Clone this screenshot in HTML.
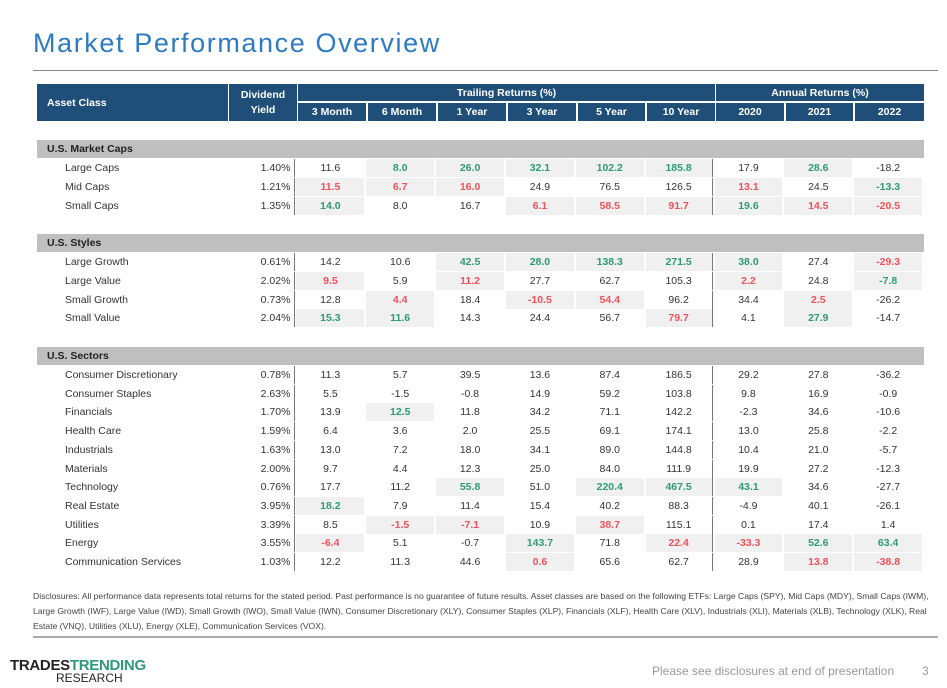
<!DOCTYPE html>
<html><head><meta charset="utf-8"><style>
*{margin:0;padding:0;box-sizing:border-box}
body{width:947px;height:688px;background:#fff;position:relative;font-family:"Liberation Sans",sans-serif;overflow:hidden;color:#333}
.t{position:absolute;left:33px;top:28px;font-size:27px;color:#2e7bc4;letter-spacing:1.6px}
.hl{position:absolute;left:33px;width:905px;height:1px;background:#888}
.h{position:absolute;background:#1f4e79;color:#fff;font-weight:bold;font-size:10.5px;display:flex;align-items:center;justify-content:center}
.row{position:absolute;left:37px;width:887px;display:flex;font-size:10.5px}
.row div{height:100%;display:flex;align-items:center;justify-content:center;margin-right:2px}
.row .n{width:190px;justify-content:flex-start;padding-left:28px;margin-right:1px}
.row .d{width:68px;justify-content:flex-end;padding-right:4px;margin-right:1px;border-right:1px solid #777}
.row .c{width:68px}
.row .c9{border-right:1px solid #777;width:67px}
.g{color:#2e9a78;font-weight:bold;background:#f0f0f0}
.r{color:#f0525a;font-weight:bold;background:#f0f0f0}
.sec{position:absolute;left:37px;width:887px;height:18px;background:#bfbfbf;font-weight:bold;font-size:10.5px;padding-left:10px;display:flex;align-items:center;color:#222}
.disc{position:absolute;left:33px;top:589px;width:900px;font-size:8.6px;line-height:15px;color:#444}
</style></head><body>
<div class="t">Market Performance Overview</div>
<div class="hl" style="top:70px"></div>

<div class="h" style="left:37px;top:84px;width:191px;height:37px;justify-content:flex-start;padding-left:10px">Asset Class</div>
<div class="h" style="left:229px;top:84px;width:68px;height:37px;line-height:15px;text-align:center">Dividend<br>Yield</div>
<div class="h" style="left:298px;top:84px;width:417px;height:17px">Trailing Returns (%)</div>
<div class="h" style="left:716px;top:84px;width:208px;height:17px">Annual Returns (%)</div>
<div class="h" style="left:298px;top:103px;width:68px;height:18px">3 Month</div>
<div class="h" style="left:368px;top:103px;width:68px;height:18px">6 Month</div>
<div class="h" style="left:438px;top:103px;width:68px;height:18px">1 Year</div>
<div class="h" style="left:508px;top:103px;width:68px;height:18px">3 Year</div>
<div class="h" style="left:578px;top:103px;width:67px;height:18px">5 Year</div>
<div class="h" style="left:647px;top:103px;width:68px;height:18px">10 Year</div>
<div class="h" style="left:716px;top:103px;width:68px;height:18px">2020</div>
<div class="h" style="left:786px;top:103px;width:67px;height:18px">2021</div>
<div class="h" style="left:855px;top:103px;width:69px;height:18px">2022</div>

<div class="sec" style="top:140px">U.S. Market Caps</div>
<div class="row" style="top:159px;height:18px"><div class="n">Large Caps</div><div class="d">1.40%</div><div class="c">11.6</div><div class="c g">8.0</div><div class="c g">26.0</div><div class="c g">32.1</div><div class="c g">102.2</div><div class="c c9 g">185.8</div><div class="c">17.9</div><div class="c g">28.6</div><div class="c">-18.2</div></div>
<div class="row" style="top:178px;height:18px"><div class="n">Mid Caps</div><div class="d">1.21%</div><div class="c r">11.5</div><div class="c r">6.7</div><div class="c r">16.0</div><div class="c">24.9</div><div class="c">76.5</div><div class="c c9">126.5</div><div class="c r">13.1</div><div class="c">24.5</div><div class="c g">-13.3</div></div>
<div class="row" style="top:197px;height:18px"><div class="n">Small Caps</div><div class="d">1.35%</div><div class="c g">14.0</div><div class="c">8.0</div><div class="c">16.7</div><div class="c r">6.1</div><div class="c r">58.5</div><div class="c c9 r">91.7</div><div class="c g">19.6</div><div class="c r">14.5</div><div class="c r">-20.5</div></div>

<div class="sec" style="top:234px">U.S. Styles</div>
<div class="row" style="top:253px;height:18px"><div class="n">Large Growth</div><div class="d">0.61%</div><div class="c">14.2</div><div class="c">10.6</div><div class="c g">42.5</div><div class="c g">28.0</div><div class="c g">138.3</div><div class="c c9 g">271.5</div><div class="c g">38.0</div><div class="c">27.4</div><div class="c r">-29.3</div></div>
<div class="row" style="top:272px;height:18px"><div class="n">Large Value</div><div class="d">2.02%</div><div class="c r">9.5</div><div class="c">5.9</div><div class="c r">11.2</div><div class="c">27.7</div><div class="c">62.7</div><div class="c c9">105.3</div><div class="c r">2.2</div><div class="c">24.8</div><div class="c g">-7.8</div></div>
<div class="row" style="top:291px;height:18px"><div class="n">Small Growth</div><div class="d">0.73%</div><div class="c">12.8</div><div class="c r">4.4</div><div class="c">18.4</div><div class="c r">-10.5</div><div class="c r">54.4</div><div class="c c9">96.2</div><div class="c">34.4</div><div class="c r">2.5</div><div class="c">-26.2</div></div>
<div class="row" style="top:309px;height:18px"><div class="n">Small Value</div><div class="d">2.04%</div><div class="c g">15.3</div><div class="c g">11.6</div><div class="c">14.3</div><div class="c">24.4</div><div class="c">56.7</div><div class="c c9 r">79.7</div><div class="c">4.1</div><div class="c g">27.9</div><div class="c">-14.7</div></div>

<div class="sec" style="top:347px">U.S. Sectors</div>
<div class="row" style="top:366px;height:18px"><div class="n">Consumer Discretionary</div><div class="d">0.78%</div><div class="c">11.3</div><div class="c">5.7</div><div class="c">39.5</div><div class="c">13.6</div><div class="c">87.4</div><div class="c c9">186.5</div><div class="c">29.2</div><div class="c">27.8</div><div class="c">-36.2</div></div>
<div class="row" style="top:384.7px;height:18px"><div class="n">Consumer Staples</div><div class="d">2.63%</div><div class="c">5.5</div><div class="c">-1.5</div><div class="c">-0.8</div><div class="c">14.9</div><div class="c">59.2</div><div class="c c9">103.8</div><div class="c">9.8</div><div class="c">16.9</div><div class="c">-0.9</div></div>
<div class="row" style="top:403.4px;height:18px"><div class="n">Financials</div><div class="d">1.70%</div><div class="c">13.9</div><div class="c g">12.5</div><div class="c">11.8</div><div class="c">34.2</div><div class="c">71.1</div><div class="c c9">142.2</div><div class="c">-2.3</div><div class="c">34.6</div><div class="c">-10.6</div></div>
<div class="row" style="top:422.1px;height:18px"><div class="n">Health Care</div><div class="d">1.59%</div><div class="c">6.4</div><div class="c">3.6</div><div class="c">2.0</div><div class="c">25.5</div><div class="c">69.1</div><div class="c c9">174.1</div><div class="c">13.0</div><div class="c">25.8</div><div class="c">-2.2</div></div>
<div class="row" style="top:440.8px;height:18px"><div class="n">Industrials</div><div class="d">1.63%</div><div class="c">13.0</div><div class="c">7.2</div><div class="c">18.0</div><div class="c">34.1</div><div class="c">89.0</div><div class="c c9">144.8</div><div class="c">10.4</div><div class="c">21.0</div><div class="c">-5.7</div></div>
<div class="row" style="top:459.5px;height:18px"><div class="n">Materials</div><div class="d">2.00%</div><div class="c">9.7</div><div class="c">4.4</div><div class="c">12.3</div><div class="c">25.0</div><div class="c">84.0</div><div class="c c9">111.9</div><div class="c">19.9</div><div class="c">27.2</div><div class="c">-12.3</div></div>
<div class="row" style="top:478.2px;height:18px"><div class="n">Technology</div><div class="d">0.76%</div><div class="c">17.7</div><div class="c">11.2</div><div class="c g">55.8</div><div class="c">51.0</div><div class="c g">220.4</div><div class="c c9 g">467.5</div><div class="c g">43.1</div><div class="c">34.6</div><div class="c">-27.7</div></div>
<div class="row" style="top:496.9px;height:18px"><div class="n">Real Estate</div><div class="d">3.95%</div><div class="c g">18.2</div><div class="c">7.9</div><div class="c">11.4</div><div class="c">15.4</div><div class="c">40.2</div><div class="c c9">88.3</div><div class="c">-4.9</div><div class="c">40.1</div><div class="c">-26.1</div></div>
<div class="row" style="top:515.6px;height:18px"><div class="n">Utilities</div><div class="d">3.39%</div><div class="c">8.5</div><div class="c r">-1.5</div><div class="c r">-7.1</div><div class="c">10.9</div><div class="c r">38.7</div><div class="c c9">115.1</div><div class="c">0.1</div><div class="c">17.4</div><div class="c">1.4</div></div>
<div class="row" style="top:534.3px;height:18px"><div class="n">Energy</div><div class="d">3.55%</div><div class="c r">-6.4</div><div class="c">5.1</div><div class="c">-0.7</div><div class="c g">143.7</div><div class="c">71.8</div><div class="c c9 r">22.4</div><div class="c r">-33.3</div><div class="c g">52.6</div><div class="c g">63.4</div></div>
<div class="row" style="top:553px;height:18px"><div class="n">Communication Services</div><div class="d">1.03%</div><div class="c">12.2</div><div class="c">11.3</div><div class="c">44.6</div><div class="c r">0.6</div><div class="c">65.6</div><div class="c c9">62.7</div><div class="c">28.9</div><div class="c r">13.8</div><div class="c r">-38.8</div></div>

<div class="disc">Disclosures: All performance data represents total returns for the stated period. Past performance is no guarantee of future results. Asset classes are based on the following ETFs: Large Caps (SPY), Mid Caps (MDY), Small Caps (IWM), Large Growth (IWF), Large Value (IWD), Small Growth (IWO), Small Value (IWN), Consumer Discretionary (XLY), Consumer Staples (XLP), Financials (XLF), Health Care (XLV), Industrials (XLI), Materials (XLB), Technology (XLK), Real Estate (VNQ), Utilities (XLU), Energy (XLE), Communication Services (VOX).</div>
<div style="position:absolute;left:33px;top:636px;width:905px;height:2px;background:#aaa"></div>
<div style="position:absolute;left:10px;top:657px;font-size:15px;font-weight:bold;letter-spacing:-0.3px;color:#222">TRADES<span style="color:#2e9a78">TRENDING</span></div>
<div style="position:absolute;left:56px;top:671px;font-size:12px;color:#222">RESEARCH</div>
<div style="position:absolute;left:652px;top:664px;font-size:12px;color:#999">Please see disclosures at end of presentation</div>
<div style="position:absolute;left:922px;top:664px;font-size:12px;color:#999">3</div>
</body></html>
